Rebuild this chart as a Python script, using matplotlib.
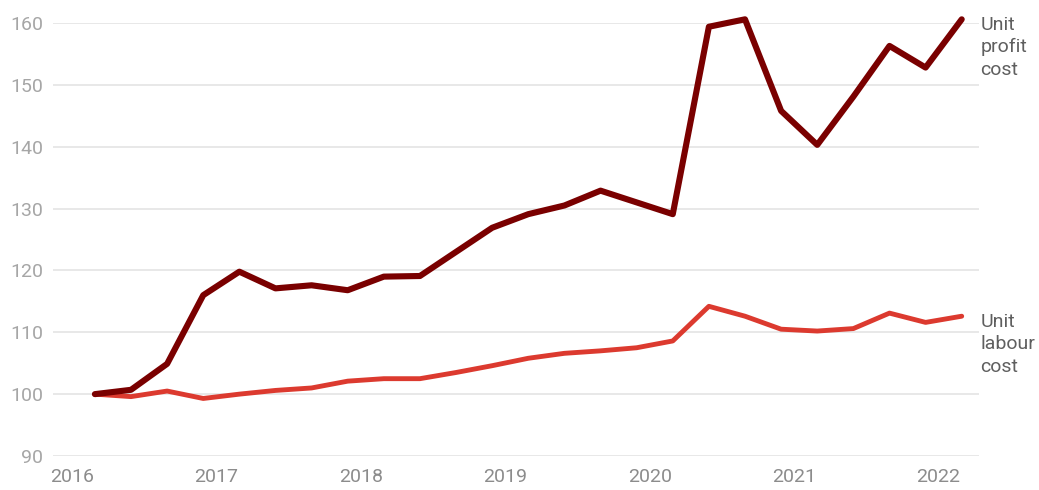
import matplotlib
matplotlib.use("Agg")
import matplotlib.pyplot as plt
import numpy as np

# quarterly index, 2016 Q1 = 100
quarters = np.arange(25)
x_start = 2016.16
profit = [100.0, 100.7, 104.9, 116.0, 119.8, 117.1, 117.6, 116.8, 119.0, 119.1,
          123.0, 126.9, 129.1, 130.5, 132.9, 131.0, 129.1, 159.4, 160.6, 145.8,
          140.3, 148.1, 156.3, 152.8, 160.6]
labour = [100.0, 99.6, 100.5, 99.3, 100.0, 100.6, 101.0, 102.1, 102.5, 102.5,
          103.5, 104.6, 105.8, 106.6, 107.0, 107.5, 108.6, 114.2, 112.6, 110.5,
          110.2, 110.6, 113.1, 111.6, 112.6]
years = [2016, 2017, 2018, 2019, 2020, 2021, 2022]
y_ticks = [90, 100, 110, 120, 130, 140, 150, 160]

DARK = "#7a0000"
RED = "#dc3a2f"
GRID = "#e6e6e6"

plt.rcParams["font.family"] = ["Roboto", "DejaVu Sans"]

fig = plt.figure(figsize=(10.39, 4.9), dpi=100)
ax = fig.add_axes([0.051, 0.0694, 0.8913, 0.8836])

x = x_start + quarters * 0.25
ax.plot(x, labour, color=RED, lw=3.5, solid_capstyle="round", solid_joinstyle="round",
        clip_on=False, zorder=3)
ax.plot(x, profit, color=DARK, lw=4.4, solid_capstyle="round", solid_joinstyle="round",
        clip_on=False, zorder=4)

ax.set_xlim(2015.87, 2022.28)
ax.set_ylim(90, 160)
ax.set_yticks(y_ticks)
ax.set_xticks(years)
ax.set_xticklabels([str(y) for y in years])
ax.tick_params(axis="y", length=0, pad=7, labelsize=14, labelcolor="#a6a6a6")
ax.tick_params(axis="x", length=0, pad=9, labelsize=14, labelcolor="#8c8c8c")
ax.grid(axis="y", color=GRID, lw=1.3)
ax.grid(axis="x", visible=False)
ax.set_axisbelow(True)
for s in ax.spines.values():
    s.set_visible(False)

# end-of-line labels, three short lines each
label_kw = dict(xycoords=("axes fraction", "data"), xytext=(1, 0),
                textcoords="offset points", ha="left", va="center",
                fontsize=14, color="#5f5f5f", linespacing=1.32,
                annotation_clip=False)
ax.annotate("Unit\nprofit\ncost", xy=(1.0, 156.1), **label_kw)
ax.annotate("Unit\nlabour\ncost", xy=(1.0, 108.1), **label_kw)

fig.savefig("out.png", facecolor="white")
